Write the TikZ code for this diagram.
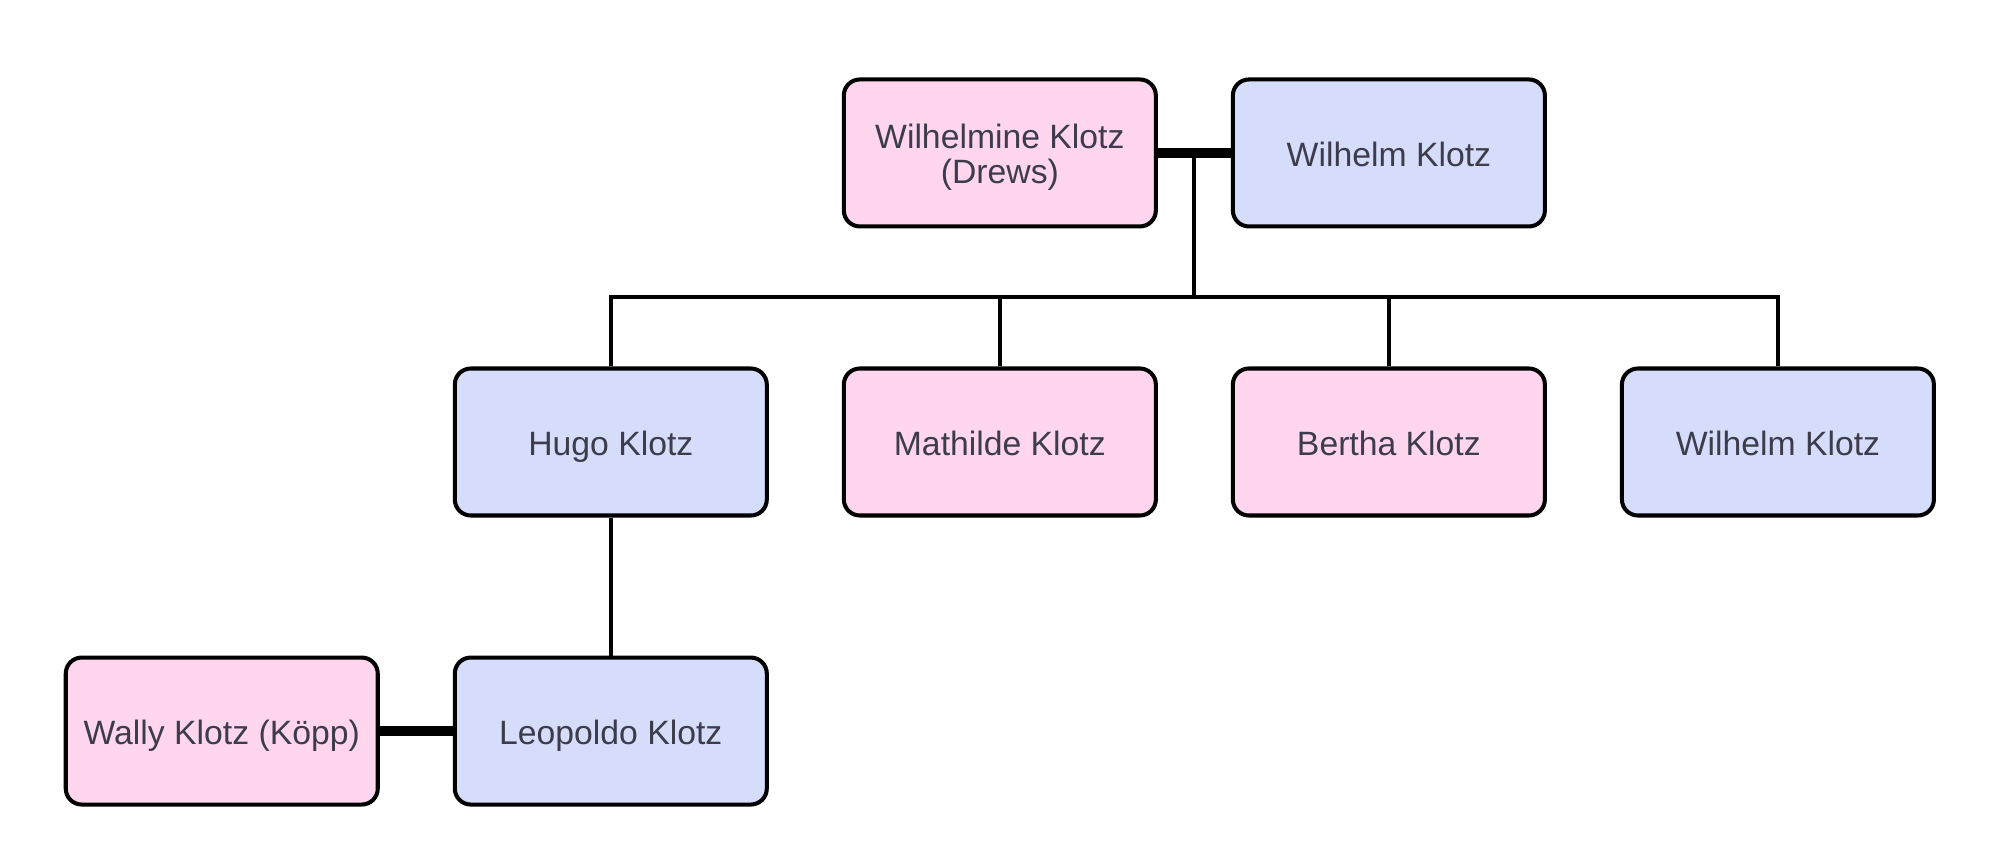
\documentclass[tikz,border=0pt]{standalone}
\usepackage{fontspec}
\setmainfont{Liberation Sans}
\usepackage{tikz}
\usetikzlibrary{positioning,calc}
\usepackage{xcolor}
\definecolor{femfill}{RGB}{255,214,237}
\definecolor{malfill}{RGB}{214,221,250}
\definecolor{nametext}{RGB}{60,60,76}

\begin{document}
\begin{tikzpicture}[
node distance=1.38cm and 0.73cm,
person/.style={rectangle,draw,line width=1.15pt,rounded corners=0.16cm,align=center,
  minimum width=3.12cm,minimum height=1.47cm,text=nametext,
  text height=0.86em,text depth=0.08em,
  font=\fontsize{9.6}{10.2}\selectfont},
fem/.style={person,fill=femfill},
mal/.style={person,fill=malfill},
child/.style={line width=1.1pt},
marry/.style={line width=2.6pt}
]
\useasboundingbox (0,0) rectangle (19.91,8.62);

\node[mal] (hugo) at (6.108,4.20) {Hugo Klotz};
\node[fem,right=of hugo] (mathilde) {Mathilde Klotz};
\node[fem,right=of mathilde] (bertha) {Bertha Klotz};
\node[mal,right=of bertha] (wilhelmjr) {Wilhelm Klotz};
\node[fem,above=of mathilde,text height=18.4pt,text depth=0.8pt] (wilhelmine) {Wilhelmine Klotz\\(Drews)};
\node[mal,above=of bertha] (wilhelmsr) {Wilhelm Klotz};
\node[mal,below=of hugo] (leopoldo) {Leopoldo Klotz};
\node[fem,left=of leopoldo] (wally) {Wally Klotz (Köpp)};

% marriages
\draw[marry] (wilhelmine) -- (wilhelmsr);
\draw[marry] (wally) -- (leopoldo);

% children of Wilhelm and Wilhelmine
\coordinate (mid) at ($(wilhelmine.east)!0.5!(wilhelmsr.west)$);
\coordinate (bar) at ($(mid)+(0,-1.44)$);
\draw[child] (mid) -- (bar);
\draw[child,line cap=rect] (hugo.north |- bar) -- (wilhelmjr.north |- bar);
\foreach \kid in {hugo,mathilde,bertha,wilhelmjr}
  \draw[child] (\kid.north) -- (\kid.north |- bar);

\draw[child] (hugo) -- (leopoldo);
\end{tikzpicture}
\end{document}
